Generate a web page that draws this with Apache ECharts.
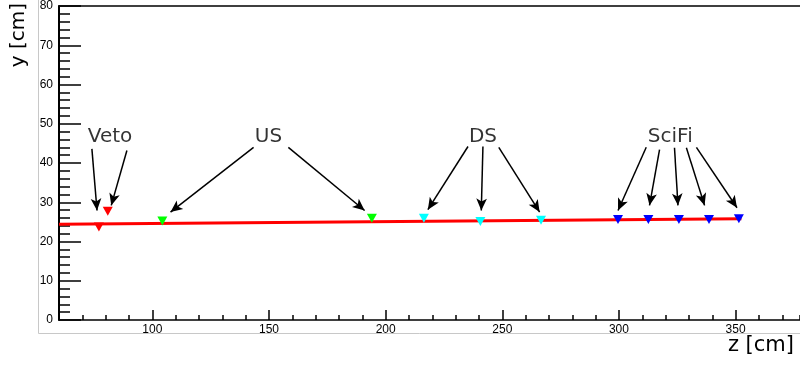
<!DOCTYPE html>
<html>
<head>
<meta charset="utf-8">
<script src="https://cdn.jsdelivr.net/npm/echarts@6/dist/echarts.min.js"></script>
<style>
  html, body { margin: 0; padding: 0; background: #fff; }
  #chart { width: 800px; height: 367px; }
</style>
</head>
<body>
<div id="chart"></div>
<script>
// ---- data (z [cm], y [cm]) ----
const vetoHits  = [[77.1, 23.7], [80.9, 27.7]];
const usHits    = [[104.3, 25.2], [194.1, 25.9]];
const dsHits    = [[216.4, 25.9], [240.6, 25.1], [266.6, 25.4]];
const scifiHits = [[299.6, 25.6], [312.6, 25.6], [325.7, 25.6], [338.6, 25.6], [351.4, 25.8]];
const fitLine   = [[60, 24.4], [352.5, 25.8]];

// tick labels
const xTicks = [100, 150, 200, 250, 300, 350];
const yTicks = [0, 10, 20, 30, 40, 50, 60, 70, 80];

// annotations: text anchors and arrows (data coordinates)
const labelNames  = ['Veto', 'US', 'DS', 'SciFi'];
const labelAnchor = [[81.9, 46.6], [149.8, 46.6], [241.7, 46.6], [322.0, 46.6]];
const arrowStarts = [[74.1, 43.6], [89.1, 43.2], [143.4, 44.0], [158.3, 44.0],
                     [235.3, 44.2], [241.7, 44.2], [248.5, 44.0],
                     [311.7, 44.0], [317.4, 43.4], [323.8, 43.9], [328.9, 43.9], [333.2, 44.0]];
const arrowEnds   = [[76.3, 27.9], [82.4, 29.2], [107.8, 27.5], [191.0, 27.9],
                     [218.1, 28.1], [241.0, 27.9], [266.0, 27.5],
                     [299.6, 27.9], [313.1, 29.2], [325.3, 29.2], [336.7, 29.2], [350.6, 28.6]];

const X_MIN = 60, X_MAX = 377.6, Y_MIN = 0, Y_MAX = 80;

const chart = echarts.init(document.getElementById('chart'), null, { renderer: 'canvas' });
const axisFont = 'Liberation Sans';
const titleFont = 'DejaVu Sans';

function markerSeries(name, data, color) {
  return {
    name, type: 'scatter', xAxisIndex: 0, yAxisIndex: 0,
    data, symbol: 'triangle', symbolRotate: 180, symbolSize: [10, 9],
    itemStyle: { color, opacity: 1 }, z: 5, silent: true
  };
}

const option = {
  animation: false,
  backgroundColor: '#ffffff',
  grid: { left: 59, right: 0, top: 5, bottom: 47, containLabel: false },
  xAxis: [
    { // major ticks + labels
      type: 'value', min: X_MIN, max: X_MAX, position: 'bottom',
      axisLine: { show: true, onZero: false, lineStyle: { color: '#000', width: 1.5 } },
      axisTick: { show: true, inside: true, length: 10, customValues: xTicks,
                  lineStyle: { color: '#000', width: 1.5 } },
      axisLabel: { show: true, customValues: xTicks, margin: 4, color: '#000',
                   fontFamily: axisFont, fontSize: 12 },
      splitLine: { show: false }
    },
    { // minor ticks
      type: 'value', min: X_MIN, max: X_MAX, interval: 10, position: 'bottom',
      axisLine: { show: false, onZero: false },
      axisTick: { show: true, inside: true, length: 5, lineStyle: { color: '#000', width: 1.5 } },
      axisLabel: { show: false }, splitLine: { show: false }
    },
    { // top frame
      type: 'value', min: X_MIN, max: X_MAX, position: 'top',
      axisLine: { show: true, onZero: false, lineStyle: { color: '#000', width: 1.5 } },
      axisTick: { show: false }, axisLabel: { show: false }, splitLine: { show: false }
    }
  ],
  yAxis: [{
    type: 'value', min: Y_MIN, max: Y_MAX, interval: 10, position: 'left',
    axisLine: { show: true, onZero: false, lineStyle: { color: '#000', width: 2 } },
    axisTick: { show: true, inside: true, length: 22, lineStyle: { color: '#000', width: 1.5 } },
    minorTick: { show: true, splitNumber: 5, length: 11, lineStyle: { color: '#000', width: 1.5 } },
    axisLabel: { show: true, margin: 6, color: '#000', fontFamily: axisFont, fontSize: 12,
                 formatter: v => (yTicks.indexOf(v) >= 0 ? String(v) : '') },
    splitLine: { show: false }, minorSplitLine: { show: false }
  }],
  series: [
    {
      name: 'fit', type: 'line', xAxisIndex: 0, yAxisIndex: 0,
      data: fitLine, symbol: 'none', z: 3, silent: true,
      lineStyle: { color: '#ff0000', width: 3 },
      markLine: {
        silent: true, symbol: ['none', 'arrow'], symbolSize: [8, 12], precision: 3,
        label: { show: false },
        lineStyle: { color: '#000', width: 1.5, type: 'solid' },
        emphasis: { disabled: true },
        data: arrowStarts.map((s, i) => [{ coord: s }, { coord: arrowEnds[i] }])
      }
    },
    markerSeries('Veto', vetoHits, '#ff0000'),
    markerSeries('US', usHits, '#00ff00'),
    markerSeries('DS', dsHits, '#00ffff'),
    markerSeries('SciFi', scifiHits, '#0000ff'),
    {
      name: 'labels', type: 'scatter', xAxisIndex: 0, yAxisIndex: 0, silent: true,
      symbolSize: 0, z: 6,
      data: labelAnchor.map((p, i) => ({ value: p, name: labelNames[i] })),
      label: { show: true, position: 'inside', formatter: p => p.name,
               color: '#000', fontFamily: titleFont, fontSize: 20 }
    }
  ],
  graphic: [
    { type: 'line', shape: { x1: 38.5, y1: 0, x2: 38.5, y2: 333.5 }, style: { stroke: '#c8c8c8', lineWidth: 1 }, silent: true },
    { type: 'line', shape: { x1: 38.5, y1: 333.5, x2: 800, y2: 333.5 }, style: { stroke: '#c8c8c8', lineWidth: 1 }, silent: true },
    { type: 'text', x: 19, y: 35, rotation: Math.PI / 2, silent: true,
      style: { text: 'y [cm]', fill: '#000', font: '20px "DejaVu Sans"', textAlign: 'center', textVerticalAlign: 'middle' } },
    { type: 'text', x: 794, y: 346, silent: true,
      style: { text: 'z [cm]', fill: '#000', font: '21px "DejaVu Sans"', textAlign: 'right', textVerticalAlign: 'middle' } }
  ]
};

chart.setOption(option);
</script>
</body>
</html>
